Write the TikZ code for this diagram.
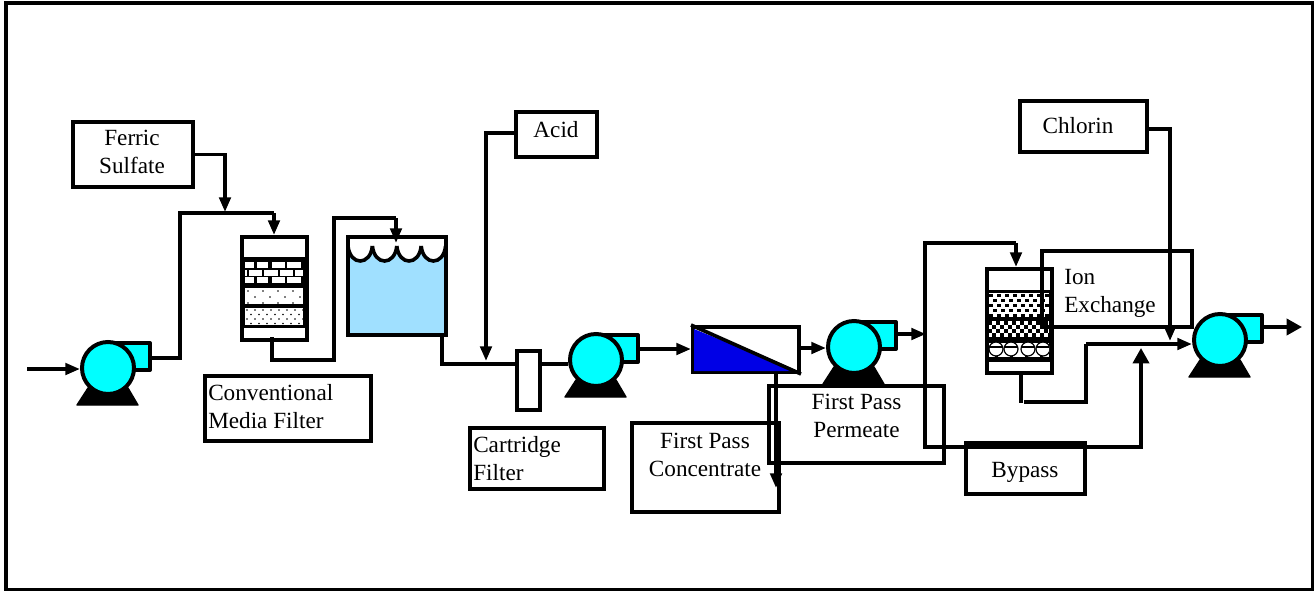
\documentclass[tikz,border=0pt]{standalone}
\usepackage{fontspec}
\setmainfont{Liberation Serif}
\usetikzlibrary{arrows.meta}
\definecolor{pumpcyan}{RGB}{0,255,255}
\definecolor{tankblue}{RGB}{160,224,255}
\definecolor{memblue}{RGB}{0,0,230}
\tikzset{
  pipe/.style={line width=2.7pt,line join=miter},
  flow/.style={pipe,-{Triangle[length=11pt,width=8.5pt]}},
  bigflow/.style={pipe,-{Triangle[length=11.5pt,width=12pt]}},
  boxn/.style={draw,line width=3pt,inner sep=0pt,rectangle},
  lbl/.style={font=\fontsize{17.4}{21}\selectfont,inner sep=0pt,align=center,anchor=base},
  lbll/.style={font=\fontsize{17.4}{21}\selectfont,inner sep=0pt,align=left,anchor=base west},
  outl/.style={draw,line width=3pt,line join=round},
}
% name, x, y
\newcommand{\pumpat}[3]{%
  \begin{scope}[shift={(#2,#3)}]
    \fill[line join=round,draw,line width=1pt] (-31,37) -- (-20,20) -- (20,20) -- (30,37) -- cycle;
    \draw[outl,fill=pumpcyan] (0,-25) -- (42,-25) -- (42,2) -- (0,2) -- cycle;
    \node[circle,draw,line width=3pt,fill=pumpcyan,minimum size=39pt,inner sep=0pt] (#1) at (0,0) {};
    \coordinate (#1out) at (42,-11);
  \end{scope}}
\newcommand{\boxat}[5]{\node[boxn,minimum width=#4*0.75pt,minimum height=#5*0.75pt] (#1) at (#2,#3) {};}
\begin{document}
\begin{tikzpicture}[x=0.75pt,y=-0.75pt]
\useasboundingbox (0,0) rectangle (1314,590);
\fill[white] (0,0) rectangle (1314,590);
\node[draw,line width=3pt,minimum width=1307*0.75pt,minimum height=587*0.75pt,inner sep=0pt] (frame) at (659,296) {};

% pumps
\pumpat{pa}{108}{368}
\pumpat{pb}{596}{360}
\pumpat{pc}{854}{347}
\pumpat{pd}{1220}{340}

% media filter
\node[boxn,fill=white,minimum width=65*0.75pt,minimum height=103*0.75pt] (mf) at (274.5,288.5) {};
\fill (242,257) rectangle (307,328);
\fill[white] (245,288) rectangle (303,304);
\fill[white] (245,308) rectangle (303,325);
\foreach \a/\b in {245/254,257/268,272/285,287/301}{
  \fill[white] (\a,262) rectangle (\b,268);
  \fill[white] (\a,277) rectangle (\b,283);}
\foreach \a/\b in {245/247,249/262,264/278,280/293,295/303}{
  \fill[white] (\a,270) rectangle (\b,276);}
\foreach \r/\o in {0/0,1/7,2/0}{
  \foreach \c in {0,...,3}{
    \fill (248+\o+\c*15,291+\r*6) circle (0.9);}}
\foreach \r/\o in {0/0,1/4,2/0,3/4}{
  \foreach \c in {0,...,7}{
    \fill (247+\o+\c*8,310+\r*4.5) circle (0.9);}}

% tank
\fill[tankblue] (348,237) rectangle (446,335);
\fill[white] (348,237) rectangle (446,246);
\foreach \a in {348,372.4,396.8,421.2}{
  \fill[white] (\a,246) .. controls (\a+2,266) and (\a+22.4,266) .. (\a+24.4,246) -- cycle;
  \draw[pipe] (\a,246) .. controls (\a+2,266) and (\a+22.4,266) .. (\a+24.4,246);}
\node[boxn,minimum width=98*0.75pt,minimum height=98*0.75pt] (tank) at (397,286) {};

% cartridge
\node[boxn,fill=white,minimum width=23*0.75pt,minimum height=59*0.75pt] (cart) at (528,380) {};

% membrane
\node[boxn,fill=white,minimum width=106*0.75pt,minimum height=45*0.75pt] (mem) at (746,349.5) {};
\fill[memblue] (694,329) -- (694,371) -- (797,371) -- cycle;
\draw[pipe] (mem.north west) -- (mem.south east);

% ion exchange vessel
\node[boxn,fill=white,minimum width=65*0.75pt,minimum height=104*0.75pt] (ix) at (1019.5,321) {};
\fill (987,290) rectangle (1052,362);
\fill[white] (989,293) rectangle (1049,317);
\fill[white] (989,321) rectangle (1049,337);
\fill[white] (989,341) rectangle (1049,357);
\begin{scope}
  \clip (989,293) rectangle (1049,317);
  \foreach \r in {0,...,4}{
    \pgfmathsetmacro{\off}{mod(\r,2)*4}
    \foreach \c in {0,...,8}{
      \fill (989+\off+\c*8,293.5+\r*5) rectangle +(3.8,3.2);}}
\end{scope}
\begin{scope}
  \clip (989,321) rectangle (1049,337);
  \foreach \r in {0,...,3}{
    \pgfmathsetmacro{\off}{mod(\r,2)*4}
    \foreach \c in {0,...,8}{
      \fill (988+\off+\c*8,321+\r*4) rectangle +(4,4);}}
\end{scope}
\begin{scope}
  \clip (989,341) rectangle (1049,357);
  \foreach \a in {989,1004,1019,1034}{
    \fill (\a,341) rectangle +(15,1.5);
    \fill (\a+6,355) rectangle +(3,2);}
  \foreach \a in {996,1011,1028,1043}{
    \draw[line width=0.9pt,fill=white] (\a,349) circle (7);
    \fill (\a-6,346) rectangle (\a+6,348);}
\end{scope}

% text boxes
\boxat{ferric}{133}{154.5}{120}{65}
\boxat{acid}{556.5}{134.5}{81}{45}
\boxat{conv}{288}{408.5}{166}{65}
\boxat{cartl}{537}{458.5}{134}{61}
\boxat{conc}{705.5}{467.5}{147}{89}
\boxat{perm}{856.5}{424.5}{175}{77}
\boxat{byp}{1025.5}{468.5}{119}{51}
\boxat{chl}{1083.5}{126.5}{127}{51}
\boxat{ionb}{1117}{289}{150}{76}

\node[lbl] (tferric) at (132,173) {Ferric\\Sulfate};
\node[lbl] (tacid) at (556,137) {Acid};
\node[lbll] (tconv) at (208,428) {Conventional\\Media Filter};
\node[lbll] (tcart) at (473,480) {Cartridge\\Filter};
\node[lbl] (tconc) at (705,476) {First Pass\\Concentrate};
\node[lbl] (tperm) at (856.5,437) {First Pass\\Permeate};
\node[lbl] (tbyp) at (1025,477) {Bypass};
\node[lbl] (tchl) at (1078,133) {Chlorin};
\node[lbll] (tion) at (1064,312) {Ion\\Exchange};

% junction coordinates
\coordinate (inflow) at (27,369);
\coordinate (j1) at (225,212);
\coordinate (j2) at (180,213);
\coordinate (j2b) at (274,213);
\coordinate (mfout) at (272,337);
\coordinate (mfa) at (272,360);
\coordinate (mfb) at (334,360);
\coordinate (mfc) at (334,218);
\coordinate (mfd) at (396,218);
\coordinate (tanktop) at (396,243);
\coordinate (tankout) at (442,335);
\coordinate (tanka) at (442,364);
\coordinate (j3) at (486,361);
\coordinate (acidc) at (486,133);
\coordinate (paoutb) at (150,358);
\coordinate (j4) at (926,334);
\coordinate (j5) at (925,243);
\coordinate (j5b) at (1016,243);
\coordinate (j6) at (925,449);
\coordinate (j6b) at (925,447);
\coordinate (j7) at (1143,447);
\coordinate (j7b) at (1141,447);
\coordinate (j8) at (1141,348);
\coordinate (ixbot) at (1021,403);
\coordinate (ixnext) at (1024,402);
\coordinate (ixa) at (1086,402);
\coordinate (j9) at (1086,344);
\coordinate (j10) at (1170,341);
\coordinate (chla) at (1170,129);
\coordinate (outflow) at (1302,327);
\coordinate (concout) at (776,488);
\coordinate (memout) at (776,372);
\coordinate (memr) at (799,348);

% connectors
\draw[flow] (inflow) -- (pa.west |- inflow);
\draw[pipe] (paoutb) -| (j2) -- (j2b);
\draw[flow] (j2b) -- (mf.north -| j2b);
\draw[flow] (ferric.east) -| (j1);
\draw[pipe] (mfout) -- (mfa) -- (mfb) -- (mfc) -- (mfd);
\draw[flow] (mfd) -- (tanktop);
\draw[pipe] (tankout) -- (tanka) -- (cart.west |- tanka);
\draw[pipe] (cart.east |- tanka) -- (pb.west |- tanka);
\draw[flow] (acid.west |- acidc) -- (acidc) -- (j3);
\draw[flow] (pbout) -- (mem.west |- pbout);
\draw[flow] (memr) -- (pc.west |- memr);
\draw[flow] (pcout |- j4) -- (j4);
\draw[flow] (memout) -- (concout);
\draw[pipe] (j5b) -- (j5) -- (j6);
\draw[flow] (j5b) -- (ix.north -| j5b);
\draw[pipe] (j6b) -- (j7);
\draw[bigflow] (j7b) -- (j8);
\draw[pipe] (ix.south -| ixbot) -- (ixbot);
\draw[pipe] (ixnext) -- (ixa) -- (j9);
\draw[flow] (j9) -- (pd.west |- j9);
\draw[flow] (chl.east |- chla) -- (chla) -- (j10);
\draw[bigflow] (pdout |- outflow) -- (outflow);
\end{tikzpicture}
\end{document}
